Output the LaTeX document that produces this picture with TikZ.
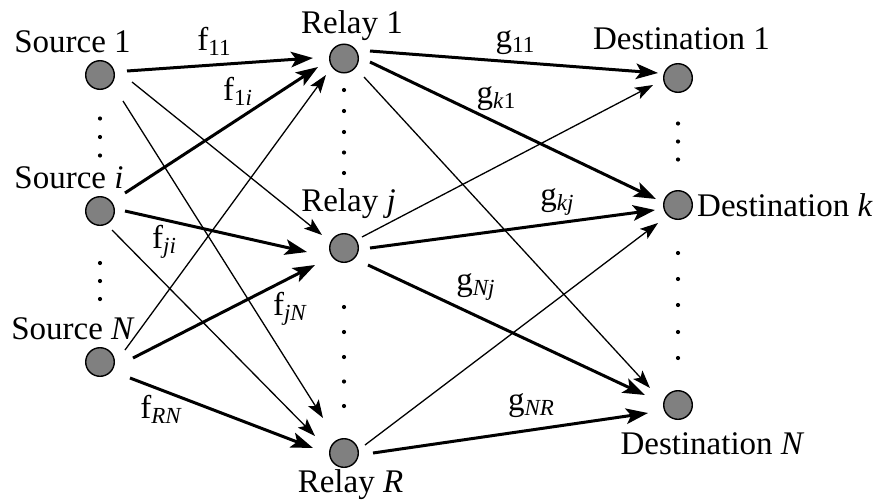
\documentclass[tikz,border=0pt]{standalone}
\usepackage{fontspec}
\setmainfont{Liberation Serif}
\usetikzlibrary{arrows.meta,calc}

% lowered, smaller index text for channel names
\newcommand{\chidx}[1]{\raisebox{-5.5pt}{\fontsize{23}{24}\selectfont #1}}

\tikzset{
  terminal/.style={circle, draw=black, line width=1.4pt, fill=black!50,
                   minimum size=28.6pt, inner sep=0pt},
  lbl/.style={anchor=base, inner sep=0pt, font=\fontsize{33}{40}\selectfont},
  fat/.style={line width=3pt, -{Stealth[length=22pt,width=15.5pt,inset=5pt]}},
  slim/.style={line width=1.3pt, -{Stealth[length=18pt,width=12.5pt,inset=4pt]}},
}

\begin{document}
\begin{tikzpicture}[x=1pt, y=-1pt]
  \useasboundingbox (0,0) rectangle (878,501);

  % terminals
  \node[terminal] (s1) at (100,75)  {};
  \node[terminal] (si) at (100,211) {};
  \node[terminal] (sN) at (100,362) {};
  \node[terminal] (r1) at (344,58.5) {};
  \node[terminal] (rj) at (344,248) {};
  \node[terminal] (rR) at (344,453) {};
  \node[terminal] (d1) at (678,78)  {};
  \node[terminal] (dk) at (678,205) {};
  \node[terminal] (dN) at (678,405) {};

  % terminal names
  \node[lbl] (ts1) at (72.5,52.5) {Source 1};
  \node[lbl] (tsi) at (69,188.3)  {Source \textit{i}};
  \node[lbl] (tsN) at (73,339.3)  {Source \textit{N}};
  \node[lbl] (tr1) at (352,33.3)  {Relay 1};
  \node[lbl] (trj) at (348.5,211.7) {Relay \textit{j}};
  \node[lbl] (trR) at (350.5,492.7) {Relay \textit{R}};
  \node[lbl] (td1) at (681.5,49)  {Destination 1};
  \node[lbl] (tdk) at (785,216.7) {Destination \textit{k}};
  \node[lbl] (tdN) at (712.5,454) {Destination \textit{N}};

  % ellipsis dots
  \foreach \y in {118.5,137,155.5,263,281,299} \fill (100,\y) circle (2.1pt);
  \foreach \y in {90,111,132,152.5,173,307,332,357,381.5,406} \fill (344,\y) circle (2.1pt);
  \foreach \y in {123.5,141.5,159.5,253,279,305,332,358} \fill (678,\y) circle (2.1pt);

  % first hop: sources to relays
  \draw[fat]  ($(s1)+(27,-4)$)  -- ($(r1)+(-31,-0.5)$);
  \draw[slim] ($(s1)+(32,7)$)   -- ($(rj)+(-22,-13)$);
  \draw[slim] ($(s1)+(23,26)$)  -- ($(rR)+(-21,-35)$);
  \draw[fat]  ($(si)+(25,-18)$) -- ($(r1)+(-26,8.5)$);
  \draw[fat]  ($(si)+(25,0)$)   -- ($(rj)+(-37,4)$);
  \draw[slim] ($(si)+(12,19)$)  -- ($(rR)+(-29,-17)$);
  \draw[slim] ($(sN)+(25,-12)$) -- ($(r1)+(-18,16.5)$);
  \draw[fat]  ($(sN)+(33,-4)$)  -- ($(rj)+(-29,17)$);
  \draw[fat]  ($(sN)+(30,16)$)  -- ($(rR)+(-31,-5)$);

  % second hop: relays to destinations
  \draw[fat]  ($(r1)+(26,-7.5)$) -- ($(d1)+(-20,-5)$);
  \draw[fat]  ($(r1)+(26,3.5)$)  -- ($(dk)+(-22,-6)$);
  \draw[slim] ($(r1)+(20,18.5)$) -- ($(dN)+(-28,-17)$);
  \draw[slim] ($(rj)+(18,-11)$)  -- ($(d1)+(-25,7)$);
  \draw[fat]  ($(rj)+(26,0)$)    -- ($(dk)+(-23,5)$);
  \draw[fat]  ($(rj)+(24,17)$)   -- ($(dN)+(-33,-10)$);
  \draw[slim] ($(rR)+(21,-8)$)   -- ($(dk)+(-20,18)$);
  \draw[fat]  ($(rR)+(29,0)$)    -- ($(dN)+(-30,8)$);

  % channel labels
  \node[lbl] (f11) at (214,50)    {f\chidx{11}};
  \node[lbl] (f1i) at (237.5,100) {f\chidx{1\textit{i}}};
  \node[lbl] (fji) at (164,248)   {f\chidx{\textit{ji}}};
  \node[lbl] (fjN) at (290,315)   {f\chidx{\textit{jN}}};
  \node[lbl] (fRN) at (161,418.3) {f\chidx{\textit{RN}}};
  \node[lbl] (g11) at (515,47)    {g\chidx{11}};
  \node[lbl] (gk1) at (496,103)   {g\chidx{\textit{k}1}};
  \node[lbl] (gkj) at (557,205)   {g\chidx{\textit{kj}}};
  \node[lbl] (gNj) at (475.5,290) {g\chidx{\textit{Nj}}};
  \node[lbl] (gNR) at (531,410)   {g\chidx{\textit{NR}}};
\end{tikzpicture}
\end{document}
